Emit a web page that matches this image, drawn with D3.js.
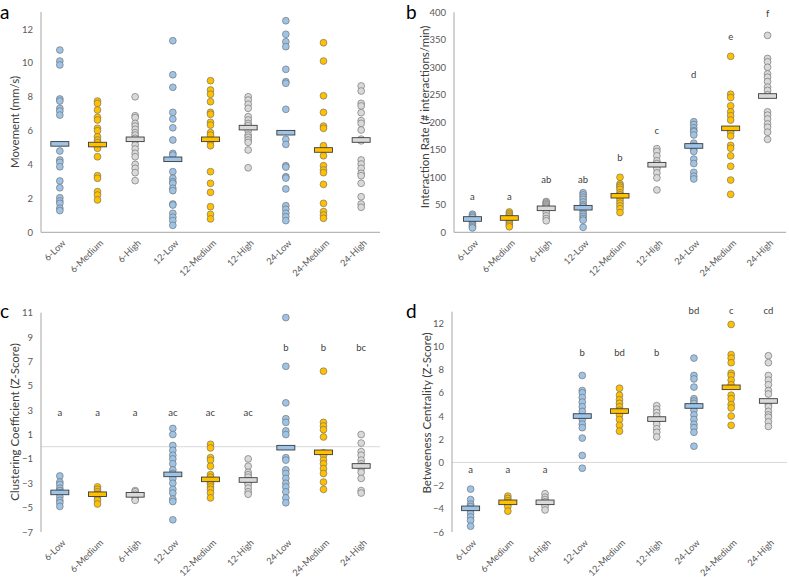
<!DOCTYPE html>
<html><head><meta charset="utf-8">
<script src="https://cdn.jsdelivr.net/npm/d3@7"></script>
<style>
body{margin:0;background:#fff;}
svg{display:block;font-family:Lato,"Open Sans",sans-serif;}
</style></head>
<body><svg id="chart" width="789" height="577"></svg>
<script>
const categories = ["6-Low","6-Medium","6-High","12-Low","12-Medium","12-High","24-Low","24-Medium","24-High"];
const levelColors = ["#9dc3e6","#ffc000","#d9d9d9"];

// Panel a: Movement (mm/s)
const movementValues = [
 [10.76,10.11,9.88,7.87,7.75,7.32,7.16,6.92,4.80,4.27,4.13,3.87,3.03,2.63,2.04,1.85,1.71,1.42,1.28],
 [7.75,7.61,7.22,6.79,6.63,6.14,6.0,5.64,5.45,5.3,5.1,4.96,4.46,3.34,3.19,2.40,2.20,1.91],
 [8.0,6.88,6.77,6.43,6.27,6.08,5.88,5.74,5.55,5.4,5.15,4.92,4.66,4.46,4.01,3.78,3.52,3.05],
 [11.31,9.30,8.56,7.08,6.69,6.17,5.45,4.66,4.56,3.58,3.19,2.99,2.89,2.60,2.46,1.67,1.61,1.12,0.89,0.69,0.41],
 [8.95,8.40,8.15,7.71,7.08,6.97,6.49,6.33,5.88,5.74,5.35,5.11,3.58,2.89,2.36,1.51,1.06,0.79],
 [8.0,7.81,7.56,7.32,6.83,6.63,6.43,6.3,6.0,5.74,5.61,5.45,5.31,4.86,3.81],
 [12.49,11.69,11.25,10.96,9.62,8.89,8.8,7.26,5.49,5.19,3.93,3.85,3.28,3.2,2.56,1.57,1.36,1.12,0.92,0.69],
 [11.19,10.11,8.06,7.08,6.27,6.14,5.11,4.52,3.93,3.68,3.52,2.83,1.71,1.22,1.02,0.83],
 [8.64,8.34,7.61,7.46,7.06,6.59,6.43,6.04,5.5,5.4,4.27,4.03,3.78,3.48,3.34,2.89,2.10,1.67,1.48]
];
const movementMeans = [5.22,5.18,5.49,4.31,5.49,6.18,5.88,4.86,5.45];
const movementTicks = [0,2,4,6,8,10,12];

// Panel b: Interaction Rate
const interactionValues = [
 [33,30,27,22,19,16,13,10,8],
 [37,34,31,28,25,22,19,16,13,10],
 [56,54,52,50,48,46,44,40,36,30,25,21],
 [72,68,64,60,55,50,47,42,38,33,29,25,22,9],
 [100,88,85,82,78,72,68,63,58,53,48,43,36],
 [152,147,139,130,125,120,116,108,99,77],
 [201,196,190,185,183,177,162,157,150,147,133,125,109,102,97],
 [320,251,245,230,219,212,204,185,181,175,158,153,139,120,95,69],
 [358,316,310,300,288,282,274,264,258,250,219,213,206,197,191,182,169]
];
const interactionMeans = [24.2,26,43.6,44.7,66.5,122.9,157,189,247.8];
const interactionTicks = [0,50,100,150,200,250,300,350,400];
const interactionLetters = ["a","a","ab","ab","b","c","d","e","f"];
const interactionLetterY = [65,65,95,95,136,185,286,356,397];

// Panel c: Clustering Coefficient
const clusteringValues = [
 [-2.4,-2.9,-3.1,-3.4,-3.6,-3.8,-4.1,-4.4,-4.6,-4.9],
 [-3.3,-3.5,-3.7,-3.9,-4.1,-4.4,-4.7],
 [-3.6,-3.7,-3.9,-4.1,-4.3,-4.4],
 [1.5,1.0,0.1,-0.3,-0.7,-1.0,-1.4,-1.9,-2.2,-2.6,-3.0,-3.5,-3.8,-4.3,-4.5,-6.0],
 [0.2,-0.1,-0.9,-1.1,-1.6,-2.3,-2.5,-2.8,-3.0,-3.1,-3.3,-3.5,-3.8,-4.2],
 [-1.0,-1.6,-2.1,-2.3,-2.5,-2.8,-3.0,-3.1,-3.4,-3.7,-3.9],
 [10.6,6.6,3.6,2.3,2.0,1.3,1.0,-0.9,-1.1,-1.9,-2.2,-2.6,-3.0,-3.3,-3.7,-4.2,-4.6],
 [6.2,2.0,1.7,1.4,0.8,-0.5,-0.7,-1.1,-1.4,-1.8,-2.2,-2.9,-3.5],
 [1.0,0.3,-0.4,-0.7,-1.1,-1.4,-1.6,-1.8,-2.1,-2.6,-3.6,-3.8]
];
const clusteringMeans = [-3.75,-3.9,-3.95,-2.27,-2.68,-2.73,-0.08,-0.46,-1.58];
const clusteringTicks = [-7,-5,-3,-1,1,3,5,7,9,11];
const clusteringLetters = ["a","a","a","ac","ac","ac","b","b","bc"];
const clusteringLetterY = [2.8,2.8,2.8,2.8,2.8,2.8,8.1,8.1,8.1];

// Panel d: Betweeness Centrality
const betweenessValues = [
 [-2.3,-3.2,-3.6,-3.8,-4.1,-4.4,-4.7,-5.0,-5.5],
 [-2.9,-3.1,-3.3,-3.5,-3.6,-3.8,-4.2],
 [-2.7,-3.0,-3.2,-3.4,-3.6,-3.8,-4.1],
 [7.5,6.2,6.0,5.6,5.2,4.8,4.4,3.7,3.3,3.0,2.1,0.6,-0.5],
 [6.4,5.8,5.4,5.1,4.8,4.5,4.1,3.7,3.2,2.7],
 [4.9,4.6,4.3,4.0,3.6,3.3,2.9,2.6,2.2],
 [9.0,7.5,7.2,6.5,5.5,5.3,5.1,4.5,4.1,3.7,3.3,3.0,2.6,1.4],
 [11.9,9.3,9.0,8.6,7.7,7.5,7.1,6.7,5.8,5.5,5.0,4.7,4.0,3.2],
 [9.2,8.6,7.5,7.1,6.7,6.2,5.9,5.0,4.8,4.4,4.1,3.9,3.5,3.1]
];
const betweenessMeans = [-3.96,-3.44,-3.44,4.0,4.43,3.74,4.87,6.48,5.3];
const betweenessTicks = [-6,-4,-2,0,2,4,6,8,10,12];
const betweenessLetters = ["a","a","a","b","bd","b","bd","c","cd"];
const betweenessLetterY = [-0.6,-0.6,-0.6,9.5,9.5,9.5,13.1,13.1,13.1];

const svg = d3.select("#chart");

function drawPanel(cfg){
  const g = svg.append("g");
  const x = d3.scaleBand().domain(categories).range([cfg.left, cfg.right]);
  const y = d3.scaleLinear().domain(cfg.domain).range([cfg.bottom, cfg.top]);
  const cx = c => x(c) + x.bandwidth()/2;

  if (cfg.zeroLine) {
    g.append("line").attr("x1", cfg.left).attr("x2", cfg.right)
      .attr("y1", y(0)).attr("y2", y(0))
      .attr("stroke", "#d9d9d9").attr("stroke-width", 1);
  }
  const ya = g.append("g").attr("transform", `translate(${cfg.left},0)`)
    .call(d3.axisLeft(y).tickValues(cfg.ticks).tickSize(0).tickPadding(8).tickFormat(d3.format("d")));
  ya.select(".domain").remove();
  ya.selectAll("text").attr("font-size", 9.5).attr("fill", "#595959").attr("font-family", "Lato, sans-serif");
  g.append("line").attr("x1", cfg.left).attr("x2", cfg.left)
    .attr("y1", y(cfg.domain[0])).attr("y2", y(cfg.domain[1]))
    .attr("stroke", "#a6a6a6").attr("stroke-width", 1);
  if (cfg.xAxisLine) {
    g.append("line").attr("x1", cfg.left).attr("x2", cfg.right)
      .attr("y1", y(cfg.domain[0])).attr("y2", y(cfg.domain[0]))
      .attr("stroke", "#a6a6a6").attr("stroke-width", 1);
  }
  const base = y(cfg.domain[0]);
  g.selectAll("text.xl").data(categories).enter().append("text")
    .attr("class","xl")
    .attr("transform", d => `translate(${cx(d)+4},${base+9}) rotate(-45)`)
    .attr("text-anchor","end").attr("dy","0.35em")
    .attr("font-size", 9.2).attr("fill", "#595959")
    .text(d => d);

  categories.forEach((c, i) => {
    const col = levelColors[i % 3];
    g.selectAll(null).data(cfg.values[i]).enter().append("circle")
      .attr("cx", cx(c)).attr("cy", d => y(d)).attr("r", 3.4)
      .attr("fill", col).attr("stroke", "#707070").attr("stroke-width", 0.65);
  });
  categories.forEach((c, i) => {
    const col = levelColors[i % 3];
    g.append("rect")
      .attr("x", cx(c) - 9).attr("y", y(cfg.means[i]) - 2.3)
      .attr("width", 18).attr("height", 4.6)
      .attr("fill", col).attr("stroke", "#3a3a3a").attr("stroke-width", 0.9);
  });
  if (cfg.letters) {
    categories.forEach((c, i) => {
      g.append("text").attr("x", cx(c)).attr("y", y(cfg.letterY[i]))
        .attr("text-anchor","middle").attr("dy","0.35em")
        .attr("font-size", 9.5).attr("fill", "#404040").text(cfg.letters[i]);
    });
  }
  g.append("text")
    .attr("transform", `translate(${cfg.titleX},${cfg.titleY}) rotate(-90)`)
    .attr("text-anchor","middle").attr("dy","0.35em")
    .attr("font-size", 11.5).attr("fill", "#404040").text(cfg.title);
  g.append("text").attr("x", cfg.tagX).attr("y", cfg.tagY)
    .attr("font-size", 19).attr("fill", "#000").text(cfg.tag);
}

drawPanel({left:41, right:380, top:12.1, bottom:232.3, domain:[0,13], ticks:movementTicks,
  values:movementValues, means:movementMeans, xAxisLine:true, zeroLine:false,
  title:"Movement (mm/s)", titleX:15, titleY:122, tag:"a", tagX:0, tagY:19});

drawPanel({left:454, right:786, top:12.3, bottom:232.3, domain:[0,400], ticks:interactionTicks,
  values:interactionValues, means:interactionMeans, xAxisLine:true, zeroLine:false,
  letters:interactionLetters, letterY:interactionLetterY,
  title:"Interaction Rate (# interactions/min)", titleX:425, titleY:117, tag:"b", tagX:406, tagY:19});

drawPanel({left:41, right:380, top:312.7, bottom:532, domain:[-7,11], ticks:clusteringTicks,
  values:clusteringValues, means:clusteringMeans, xAxisLine:false, zeroLine:true,
  letters:clusteringLetters, letterY:clusteringLetterY,
  title:"Clustering Coefficient (Z-Score)", titleX:15, titleY:422, tag:"c", tagX:0, tagY:318});

drawPanel({left:452, right:787, top:311.7, bottom:532, domain:[-6,13], ticks:betweenessTicks,
  values:betweenessValues, means:betweenessMeans, xAxisLine:false, zeroLine:true,
  letters:betweenessLetters, letterY:betweenessLetterY,
  title:"Betweeness Centrality (Z-Score)", titleX:427, titleY:413, tag:"d", tagX:406, tagY:318});
</script></body></html>
